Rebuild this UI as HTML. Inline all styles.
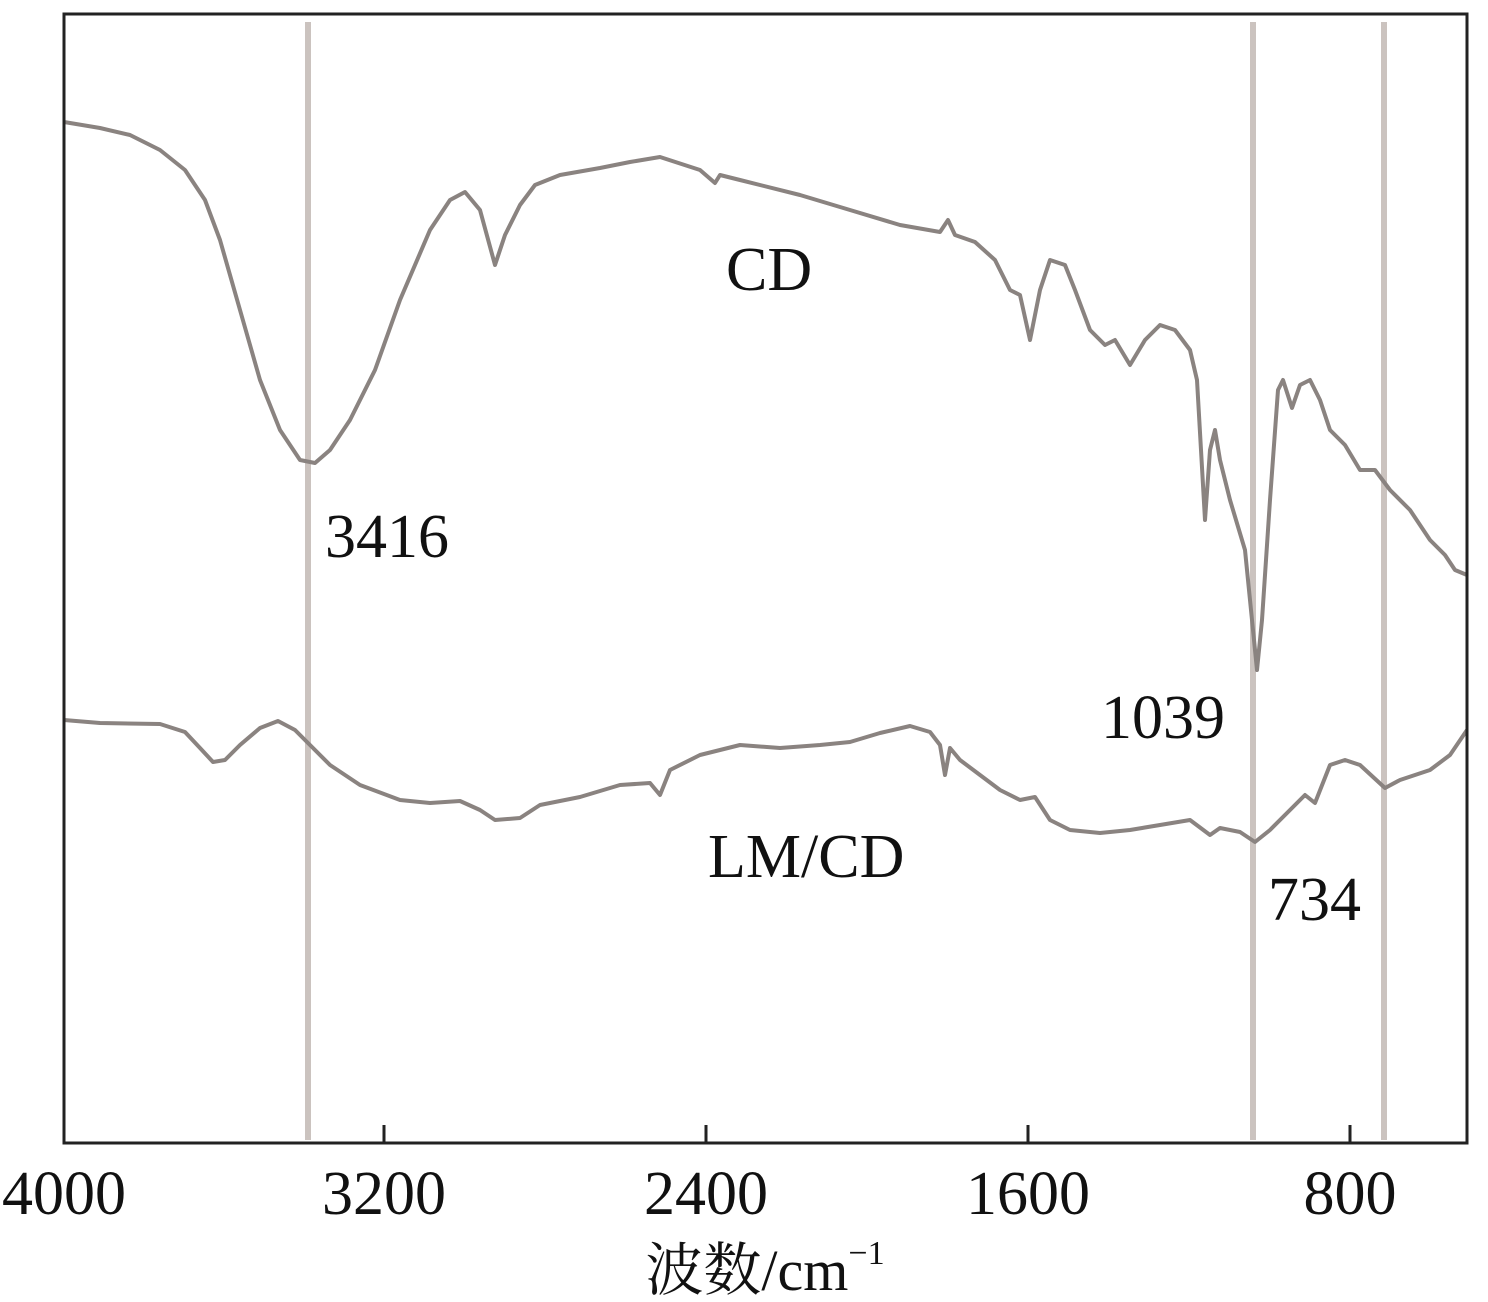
<!DOCTYPE html>
<html><head><meta charset="utf-8"><style>
html,body{margin:0;padding:0;background:#fff;}
svg{display:block;}
text{font-family:"Liberation Serif","Noto Serif CJK SC",serif;fill:#111;}
</style></head><body>
<svg width="1488" height="1302" viewBox="0 0 1488 1302" xmlns="http://www.w3.org/2000/svg">
<rect x="0" y="0" width="1488" height="1302" fill="#fff"/>
<g stroke="#cbc3bf" stroke-width="6">
<line x1="308" y1="22" x2="308" y2="1140"/>
<line x1="1253" y1="22" x2="1253" y2="1140"/>
<line x1="1384" y1="22" x2="1384" y2="1140"/>
</g>
<g fill="none" stroke="#8a8380" stroke-width="4" stroke-linejoin="round">
<polyline points="64,122 100,128 130,135 160,150 185,170 205,200 220,240 240,310 260,380 280,430 300,460 315,463 330,450 350,420 375,370 400,300 430,230 450,200 465,192 480,210 495,265 505,235 520,205 535,185 560,175 600,168 630,162 660,157 700,170 715,183 720,175 740,180 800,195 850,210 900,225 940,232 948,220 955,235 975,242 995,260 1010,290 1020,295 1030,340 1040,290 1050,260 1065,265 1075,290 1090,330 1105,345 1115,340 1130,365 1145,340 1160,325 1175,330 1190,350 1197,380 1205,520 1210,450 1215,430 1220,460 1230,500 1245,550 1250,600 1257,670 1262,620 1270,500 1278,390 1283,380 1292,408 1300,385 1310,380 1320,400 1330,430 1345,445 1360,470 1375,470 1390,490 1410,510 1430,540 1445,555 1455,570 1467,575"/>
<polyline points="64,720 100,723 160,724 185,732 200,748 213,762 225,760 240,745 260,728 278,721 295,730 310,745 330,765 360,785 400,800 430,803 460,801 480,810 495,820 520,818 540,805 580,797 620,785 650,783 660,795 670,770 700,755 740,745 780,748 820,745 850,742 880,733 910,726 930,732 940,745 945,775 950,748 960,760 980,775 1000,790 1020,800 1035,797 1050,820 1070,830 1100,833 1130,830 1160,825 1190,820 1210,835 1220,828 1240,832 1255,842 1270,830 1290,810 1305,795 1315,803 1330,765 1345,760 1360,765 1385,788 1400,780 1430,770 1450,755 1467,730"/>
</g>
<rect x="64" y="14" width="1403" height="1129" fill="none" stroke="#222" stroke-width="3"/>
<g stroke="#222" stroke-width="3">
<line x1="384" y1="1143" x2="384" y2="1125"/>
<line x1="706" y1="1143" x2="706" y2="1125"/>
<line x1="1028" y1="1143" x2="1028" y2="1125"/>
<line x1="1350" y1="1143" x2="1350" y2="1125"/>
</g>
<g font-size="62" text-anchor="middle">
<text x="64" y="1214">4000</text>
<text x="384" y="1214">3200</text>
<text x="706" y="1214">2400</text>
<text x="1028" y="1214">1600</text>
<text x="1350" y="1214">800</text>
</g>
<text x="765" y="1290" font-size="58" text-anchor="middle">波数/cm<tspan font-size="34" dy="-26">−1</tspan></text>
<g font-size="62">
<text x="726" y="290">CD</text>
<text x="325" y="557">3416</text>
<text x="1101" y="738">1039</text>
<text x="708" y="877">LM/CD</text>
<text x="1268" y="920">734</text>
</g>
</svg>
</body></html>
